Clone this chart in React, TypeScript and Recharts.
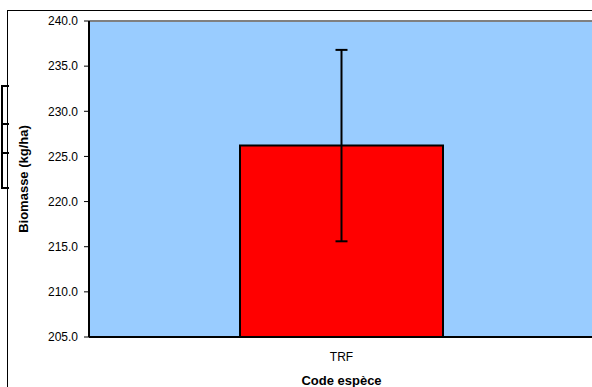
import React from 'react';
import { BarChart, Bar, XAxis, YAxis, CartesianGrid, ErrorBar, ReferenceLine } from 'recharts';

const categories = ['TRF'];
const biomass = [226.2];
const errors = [10.6];
const yTicks = [205, 210, 215, 220, 225, 230, 235, 240];

const data = categories.map((code, i) => ({ code, biomass: biomass[i], err: errors[i] }));

const font = 'Arial, "Liberation Sans", sans-serif';

const App = () => {
  return (
    <div style={{ position: 'fixed', left: 0, top: 0, width: 700, height: 420, overflow: 'hidden', background: '#fff', fontFamily: font }}>
      {/* outer chart frame, runs past the right and bottom edges */}
      <div style={{ position: 'absolute', left: 7, top: 10, width: 800, height: 600, borderLeft: '1px solid #000', borderTop: '1px solid #000' }} />
      {/* leftover legend boxes */}
      <div style={{ position: 'absolute', left: 1, top: 85, width: 6, height: 36, border: '2px solid #000', borderRightWidth: 0 }} />
      <div style={{ position: 'absolute', left: 1, top: 121, width: 6, height: 31, borderLeft: '2px solid #000', borderBottom: '2px solid #000' }} />
      <div style={{ position: 'absolute', left: 1, top: 152, width: 6, height: 35, borderLeft: '2px solid #000', borderBottom: '2px solid #000' }} />
      <div style={{ position: 'absolute', left: 0, top: 0 }}>
        <BarChart
          width={680}
          height={400}
          data={data}
          margin={{ top: 21, right: 30, left: 20, bottom: 13 }}
          barSize={203}
        >
          <CartesianGrid fill="#99CCFF" horizontal={false} vertical={false} />
          <ReferenceLine y={240} stroke="#808080" strokeWidth={2} />
          <XAxis
            dataKey="code"
            height={50}
            padding={{ left: 0, right: 56 }}
            tickLine={false}
            tickSize={0}
            tickMargin={15}
            axisLine={{ stroke: '#000', strokeWidth: 2 }}
            tick={{ fill: '#000', fontSize: 12, fontFamily: font }}
            label={{ value: 'Code espèce', position: 'insideBottom', offset: 2, dx: -28, fill: '#000', fontSize: 13, fontWeight: 'bold', fontFamily: font }}
          />
          <YAxis
            width={69}
            domain={[205, 240]}
            ticks={yTicks}
            interval={0}
            allowDataOverflow
            tickFormatter={(v: number) => v.toFixed(1)}
            tickSize={5}
            tickMargin={6}
            tickLine={{ stroke: '#000' }}
            axisLine={{ stroke: '#000', strokeWidth: 2 }}
            tick={{ fill: '#000', fontSize: 12, fontFamily: font }}
            label={{ value: 'Biomasse (kg/ha)', angle: -90, position: 'insideLeft', offset: 0, dx: 3, style: { textAnchor: 'middle' }, fill: '#000', fontSize: 13, fontWeight: 'bold', fontFamily: font }}
          />
          <Bar dataKey="biomass" fill="#FF0000" stroke="#000" strokeWidth={2} isAnimationActive={false}>
            <ErrorBar dataKey="err" width={6} stroke="#000" strokeWidth={2} direction="y" />
          </Bar>
        </BarChart>
      </div>
    </div>
  );
};

export default App;
